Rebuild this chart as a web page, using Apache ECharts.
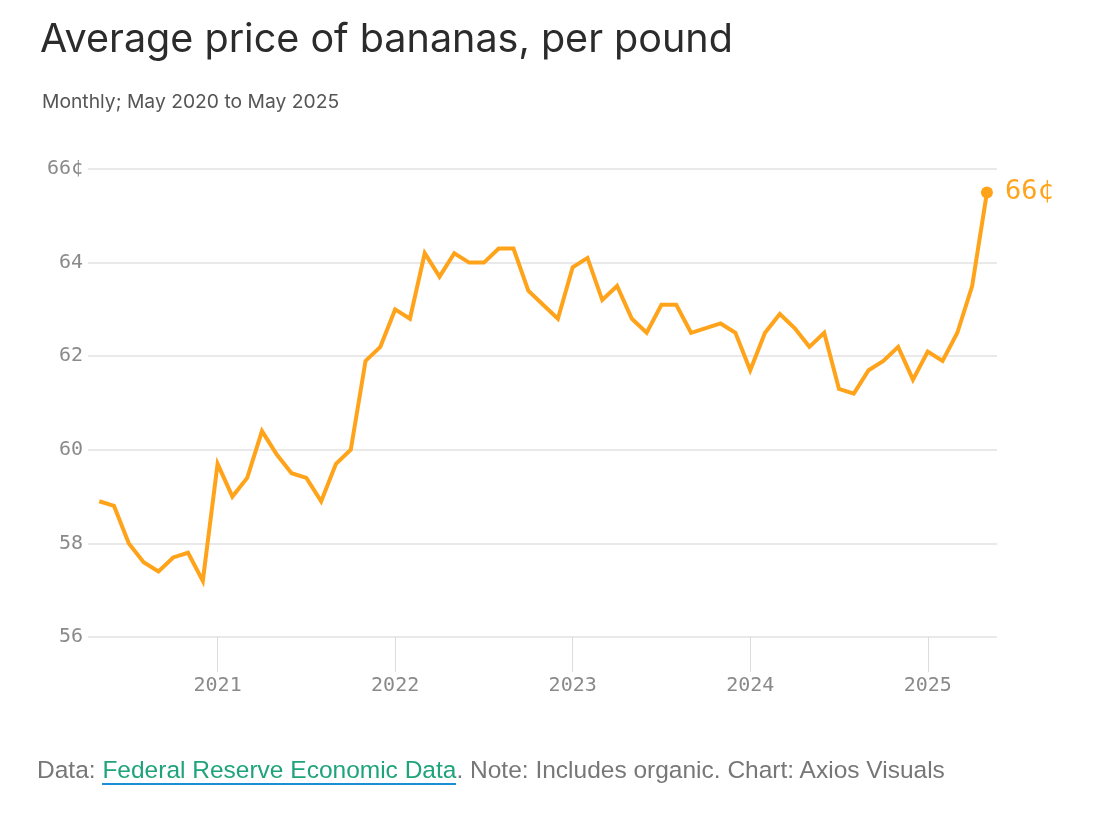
<!DOCTYPE html>
<html>
<head>
<meta charset="utf-8">
<script src="https://cdn.jsdelivr.net/npm/echarts@6/dist/echarts.min.js"></script>
<style>
  html, body { margin: 0; padding: 0; background: #fff; }
  #main { width: 1100px; height: 816px; }
  #foot {
    position: absolute; left: 37px; top: 756px;
    font-family: "Liberation Sans", Arial, sans-serif; font-size: 24.5px; color: #777;
  }
  #foot a {
    color: #1fa37a; text-decoration: none;
    border-bottom: 2px solid #1a8fd6; padding-bottom: 0px;
  }
</style>
</head>
<body>
<div id="main"></div>
<div id="foot">Data: <a>Federal Reserve Economic Data</a>. Note: Includes organic. Chart: Axios Visuals</div>
<script>
// monthly, May 2020 .. May 2025
var months = [
  '2020-05','2020-06','2020-07','2020-08','2020-09','2020-10','2020-11','2020-12',
  '2021-01','2021-02','2021-03','2021-04','2021-05','2021-06','2021-07','2021-08','2021-09','2021-10','2021-11','2021-12',
  '2022-01','2022-02','2022-03','2022-04','2022-05','2022-06','2022-07','2022-08','2022-09','2022-10','2022-11','2022-12',
  '2023-01','2023-02','2023-03','2023-04','2023-05','2023-06','2023-07','2023-08','2023-09','2023-10','2023-11','2023-12',
  '2024-01','2024-02','2024-03','2024-04','2024-05','2024-06','2024-07','2024-08','2024-09','2024-10','2024-11','2024-12',
  '2025-01','2025-02','2025-03','2025-04','2025-05'
];
// cents per pound
var price = [
  58.9, 58.8, 58.0, 57.6, 57.4, 57.7, 57.8, 57.2,
  59.7, 59.0, 59.4, 60.4, 59.9, 59.5, 59.4, 58.9, 59.7, 60.0, 61.9, 62.2,
  63.0, 62.8, 64.2, 63.7, 64.2, 64.0, 64.0, 64.3, 64.3, 63.4, 63.1, 62.8,
  63.9, 64.1, 63.2, 63.5, 62.8, 62.5, 63.1, 63.1, 62.5, 62.6, 62.7, 62.5,
  61.7, 62.5, 62.9, 62.6, 62.2, 62.5, 61.3, 61.2, 61.7, 61.9, 62.2, 61.5,
  62.1, 61.9, 62.5, 63.5, 65.5
];
var yearTicks = [2021, 2022, 2023, 2024, 2025];
var yTicks = [56, 58, 60, 62, 64, 66];

var orange = '#ffa31a';
var mono = '"DejaVu Sans Mono", monospace';

// month string -> fractional year
function toYear(m) {
  var p = m.split('-');
  return +p[0] + (+p[1] - 1) / 12;
}

var last = price.length - 1;
var seriesData = price.map(function (v, i) {
  var item = { value: [toYear(months[i]), v] };
  if (i === last) {
    item.symbol = 'circle';
    item.symbolSize = 12;
    item.label = {
      show: true, position: 'right', distance: 12,
      formatter: Math.round(v) + '¢',
      color: orange, fontFamily: mono, fontSize: 27
    };
  }
  return item;
});

var myChart = echarts.init(document.getElementById('main'));
myChart.setOption({
  animation: false,
  title: [
    {
      text: 'Average price of bananas, per pound',
      left: 35, top: 15,
      textStyle: { fontFamily: 'Inter', fontSize: 39.5, fontWeight: 400, color: '#2b2b2b' }
    },
    {
      text: 'Monthly; May 2020 to May 2025',
      left: 37, top: 88,
      textStyle: { fontFamily: 'Inter', fontSize: 19.3, fontWeight: 400, color: '#555' }
    }
  ],
  grid: { left: 88, right: 103, top: 169, bottom: 179 },
  xAxis: {
    type: 'value',
    min: 2020.27,
    max: 2025.39,
    axisLine: { show: false },
    splitLine: { show: false },
    axisTick: {
      show: true, length: 35, customValues: yearTicks,
      lineStyle: { color: '#dcdcdc', width: 1 }
    },
    axisLabel: {
      customValues: yearTicks, margin: 39,
      fontFamily: mono, fontSize: 20, color: '#8a8a8a',
      formatter: function (v) { return String(Math.round(v)); }
    }
  },
  yAxis: {
    type: 'value',
    min: 56, max: 66, interval: 2,
    axisLine: { show: false },
    axisTick: { show: false },
    splitLine: { lineStyle: { color: '#e2e2e2', width: 1.5 } },
    axisLabel: {
      margin: 5, fontFamily: mono, fontSize: 20, color: '#8a8a8a',
      formatter: function (v) { return v === yTicks[yTicks.length - 1] ? v + '¢' : v; }
    }
  },
  series: [{
    type: 'line',
    data: seriesData,
    showSymbol: true,
    symbol: 'none',
    lineStyle: { color: orange, width: 4, join: 'miter' },
    itemStyle: { color: orange }
  }]
});
</script>
</body>
</html>
